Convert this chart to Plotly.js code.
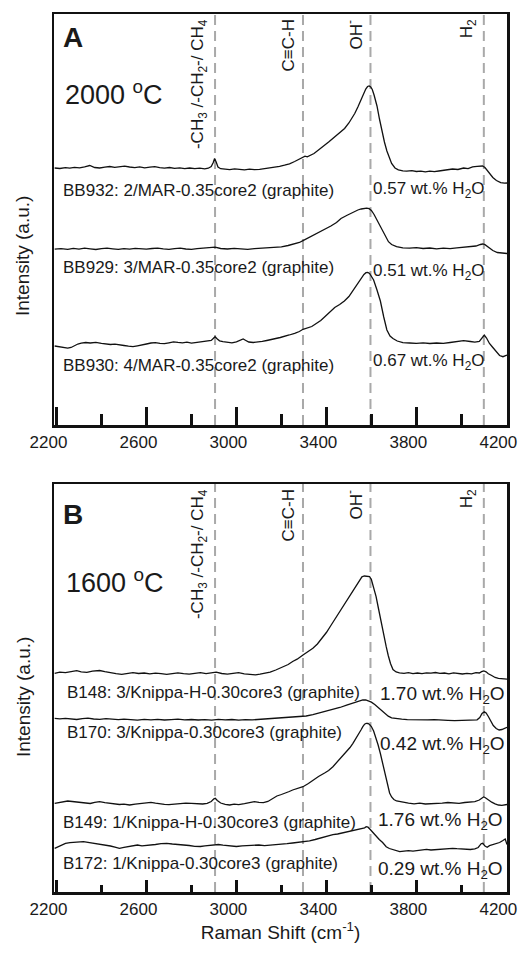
<!DOCTYPE html>
<html><head><meta charset="utf-8">
<script src="https://cdn.plot.ly/plotly-3.0.1.min.js"></script>
<style>html,body{margin:0;padding:0;background:#fff}</style>
</head><body><div id="chart" style="width:531px;height:954px"></div>
<script>
// ---------------- DATA ----------------
// x tick labels and minor tick positions (Raman shift, cm-1)
const majorTicks = [2200, 2600, 3000, 3400, 3800, 4200];
const minorTicks = [2400, 2800, 3200, 3600, 4000];
// band positions (cm-1) and labels
const bandPositions = [2905, 3296, 3596, 4100];
const bandLabels = ['-CH<sub>3</sub> /-CH<sub>2</sub>-/ CH<sub>4</sub>', 'C\u2261C-H', 'OH<sup>-</sup>', 'H<sub>2</sub>'];
// panel A (2000 oC) sample labels / water contents
const samplesA = ['BB932: 2/MAR-0.35core2 (graphite)', 'BB929: 3/MAR-0.35core2 (graphite)', 'BB930: 4/MAR-0.35core2 (graphite)'];
const waterA = ['0.57', '0.51', '0.67'];
// panel B (1600 oC)
const samplesB = ['B148: 3/Knippa-H-0.30core3 (graphite)', 'B170: 3/Knippa-0.30core3 (graphite)', 'B149: 1/Knippa-H-0.30core3 (graphite)', 'B172: 1/Knippa-0.30core3 (graphite)'];
const waterB = ['1.70', '0.42', '1.76', '0.29'];

// spectra: [Raman shift, intensity (a.u., stacked offsets)]
const BB932 = [[2192,257],[2215,256.5],[2240,257.3],[2259,256.8],[2280,257.6],[2303,257.2],[2325,258.2],[2348,259.5],[2370,257.5],[2392,257],[2415,257.8],[2437,258.5],[2459,257.6],[2480,258.3],[2503,258.8],[2525,258],[2548,257.3],[2570,258.1],[2592,257.2],[2615,257.8],[2637,258.3],[2659,257.4],[2680,256.8],[2703,257.5],[2725,256.6],[2748,257.2],[2770,256.4],[2792,257],[2815,256.3],[2837,256.8],[2859,256.2],[2875,256.8],[2888,258.5],[2897,262.5],[2903,266.5],[2910,263],[2918,258],[2930,256.3],[2950,256],[2970,255.4],[2992,256.2],[3014,255.6],[3036,255.2],[3058,255.8],[3080,255.3],[3103,255.6],[3125,256.2],[3148,257],[3170,257.8],[3192,258.6],[3214,259.8],[3236,261.2],[3259,263.5],[3278,265.5],[3296,268],[3305,268.8],[3315,268.2],[3330,269.5],[3345,271.5],[3362,274.5],[3380,277.3],[3393,280],[3410,283],[3437,288],[3460,292],[3481,296.5],[3500,302],[3515,307],[3526,311.5],[3540,318],[3553,325],[3565,331.5],[3575,336],[3583,338.5],[3590,339],[3597,338],[3604,335.5],[3612,330],[3625,319],[3636,306],[3647,294],[3658,283],[3669,274],[3680,266.5],[3690,261.5],[3705,257],[3720,255.2],[3740,254.2],[3757,253.8],[3780,254.3],[3800,253.5],[3820,253.9],[3840,253.2],[3860,253.8],[3880,253.3],[3900,254],[3920,254.6],[3940,255.2],[3961,256],[3985,255.5],[4010,257],[4030,256.4],[4050,258.2],[4070,258.6],[4085,258.9],[4094,259],[4105,257.5],[4115,254.5],[4125,251.5],[4140,247.5],[4156,244.5],[4175,242.3],[4192,241.8],[4203,242]];
const BB929 = [[2192,175.8],[2220,176.4],[2250,175.6],[2275,176.6],[2300,175.9],[2325,176.8],[2350,176.1],[2375,175.5],[2400,176.3],[2425,176.9],[2450,176.2],[2475,175.6],[2500,176.4],[2525,175.9],[2550,176.7],[2575,176.1],[2600,175.8],[2625,176.5],[2650,176.9],[2675,176.2],[2700,175.7],[2725,176.4],[2750,176.8],[2775,176],[2800,175.6],[2825,176.3],[2850,176.8],[2875,177.2],[2905,177.8],[2930,176.5],[2960,176],[2990,176.6],[3020,176.1],[3050,175.7],[3080,176.4],[3110,176.9],[3140,177.2],[3170,177.5],[3200,178.2],[3230,179.5],[3259,181],[3280,182.5],[3296,184.3],[3315,186.5],[3340,189.5],[3365,192],[3393,195.5],[3420,199],[3445,202.5],[3465,206.5],[3490,209.5],[3510,212],[3524,213.5],[3540,215],[3555,216],[3568,216.7],[3579,216.8],[3590,216.3],[3600,214.5],[3612,210.5],[3625,205],[3640,198.3],[3655,191],[3666,186.5],[3676,183.3],[3690,180.5],[3712,178.3],[3740,177.2],[3770,176.8],[3800,177.3],[3830,176.5],[3860,177],[3890,176.2],[3920,176.8],[3950,176.4],[3980,177.2],[4010,177.8],[4040,178.3],[4065,179],[4085,180.5],[4095,181],[4105,180.3],[4115,178.5],[4125,176.7],[4140,174.5],[4160,172.5],[4180,171.8],[4203,171.5]];
const BB930 = [[2192,79],[2210,78.3],[2230,77.5],[2250,76.8],[2265,77.5],[2280,79.5],[2295,81],[2310,81.8],[2330,82.5],[2350,82],[2375,82.6],[2400,81.7],[2420,81.2],[2440,80.5],[2460,80.8],[2480,79.8],[2500,79.5],[2520,78.8],[2540,78.3],[2560,79.2],[2580,79.8],[2600,81],[2620,82],[2640,82.4],[2660,81.6],[2680,81.3],[2700,82.2],[2720,83.2],[2740,82.6],[2760,82.1],[2780,82.8],[2800,81.8],[2825,82.6],[2850,83.3],[2870,83.6],[2888,84.5],[2897,86.5],[2905,88.3],[2915,86],[2925,84.2],[2940,83.4],[2960,82.8],[2980,82.2],[3000,83.2],[3015,84.4],[3030,86],[3040,84.8],[3055,83],[3075,82.5],[3095,82.8],[3115,83.6],[3135,84.5],[3155,85.8],[3175,86.5],[3195,87.5],[3214,88.5],[3235,90],[3259,91.7],[3280,93.5],[3296,95.7],[3315,96.8],[3335,98.5],[3355,101.5],[3375,104.5],[3393,108.3],[3415,112.5],[3437,117.5],[3459,120.5],[3480,124],[3500,128.5],[3524,136.5],[3540,142],[3555,147],[3567,150.5],[3576,152.3],[3584,152.5],[3592,151.5],[3602,148],[3610,145],[3625,135],[3640,124],[3655,108],[3669,95],[3683,89],[3696,86.5],[3715,84],[3740,82.3],[3770,82],[3800,81.7],[3830,82.2],[3860,81.5],[3890,82],[3920,81.7],[3950,82.5],[3980,83.3],[4010,84.3],[4040,83.5],[4060,82.8],[4080,83.5],[4092,86.5],[4102,90],[4112,87],[4125,81.5],[4140,77.5],[4155,73.5],[4170,69.5],[4185,68.3],[4203,70]];
const B148 = [[2192,218.7],[2215,219.8],[2240,219.3],[2265,220.5],[2290,221.3],[2310,220.2],[2335,219.6],[2360,220.8],[2392,221.5],[2415,220.3],[2440,219],[2465,218.3],[2490,217.7],[2515,218.6],[2540,219.4],[2565,218.5],[2590,219],[2615,218.2],[2640,218.9],[2665,218.3],[2690,217.6],[2715,218.4],[2740,219.2],[2765,218.3],[2790,217.8],[2815,218.6],[2840,219.3],[2865,218.4],[2890,219],[2910,219.8],[2935,218.5],[2960,217.9],[2985,218.7],[3010,219.3],[3035,218.2],[3060,217.5],[3085,217.2],[3105,217.8],[3125,218.6],[3150,219.8],[3175,222],[3195,223.8],[3210,225.3],[3230,227.5],[3250,230.5],[3270,232.8],[3296,237],[3320,240.3],[3340,243.7],[3360,248],[3380,253.5],[3400,259.5],[3420,266.5],[3440,273.5],[3460,280.5],[3480,287.5],[3503,295.3],[3518,300.5],[3532,306],[3547,312],[3558,315.2],[3569,316],[3580,316],[3592,315.3],[3600,312.5],[3610,305],[3621,295.3],[3632,283],[3643,270],[3651,262],[3659,253],[3666,245.3],[3675,236.5],[3685,228.5],[3696,222.5],[3710,220],[3725,219.2],[3745,218.6],[3765,219.3],[3785,218.4],[3805,219],[3825,218.3],[3845,219.2],[3865,218.8],[3885,219.5],[3905,218.7],[3925,219],[3945,218.2],[3965,219.1],[3985,218.5],[4005,218],[4025,218.6],[4045,218.2],[4065,219.3],[4080,219],[4090,220.3],[4100,221],[4110,220.2],[4120,218.3],[4135,216.5],[4150,214.5],[4165,213.6],[4180,213.3],[4192,212.8],[4203,212.8]];
const B170 = [[2192,173.7],[2215,173.2],[2240,173.6],[2265,172.8],[2290,172.5],[2315,173.3],[2340,173.8],[2365,173],[2392,172.7],[2420,173.3],[2450,172.8],[2475,172.4],[2500,172.9],[2530,172.3],[2560,171.9],[2590,172.6],[2620,172.2],[2650,172.7],[2680,172],[2710,172.4],[2740,172.8],[2770,172.1],[2800,172.5],[2830,172],[2860,172.4],[2890,171.8],[2920,172.6],[2950,172.1],[2980,172.5],[3010,171.9],[3040,172.4],[3070,172.1],[3100,172.6],[3130,172.9],[3160,173.1],[3190,173.6],[3220,174],[3250,174.6],[3280,175.2],[3310,176],[3340,177.3],[3370,179],[3400,180.7],[3430,182.3],[3460,184.5],[3490,186.8],[3515,188.5],[3535,190],[3550,191.3],[3562,192],[3575,192],[3588,191.2],[3600,189.8],[3615,187.5],[3630,184.5],[3645,181.2],[3660,178.3],[3675,175.8],[3690,174.2],[3710,173.4],[3735,172.8],[3760,172.4],[3790,172.2],[3820,172.6],[3850,172.1],[3880,172.4],[3910,171.8],[3940,171.7],[3970,171.4],[4000,171.6],[4030,171.2],[4055,171.5],[4070,172.2],[4082,174.5],[4092,178.5],[4102,180.3],[4110,179],[4120,175.5],[4130,171],[4142,166.5],[4155,163.5],[4168,162],[4180,162.5],[4192,163.8],[4203,164.7]];
const B149 = [[2192,88.7],[2210,89.5],[2230,90.3],[2250,91],[2270,90.5],[2290,90.1],[2310,89.2],[2330,88.6],[2350,88.5],[2370,89.6],[2392,90.3],[2415,89.4],[2440,88.7],[2460,88],[2480,87.5],[2500,87.9],[2525,87],[2550,87.8],[2570,88.5],[2595,89.3],[2620,89.7],[2640,88.8],[2660,88],[2680,87.6],[2700,87.3],[2725,88],[2750,88.3],[2775,88.9],[2800,88.7],[2825,88.1],[2850,88],[2870,88.7],[2888,90.5],[2900,93.2],[2906,93.7],[2915,91.5],[2930,89],[2950,87.6],[2970,87],[2990,87.8],[3010,87.4],[3036,88.3],[3058,89.1],[3080,90.3],[3100,89.6],[3120,89.4],[3140,90.5],[3150,92],[3162,94],[3180,96],[3200,97.5],[3214,99],[3235,100.5],[3250,102],[3275,103.8],[3296,105.3],[3320,108.5],[3340,112],[3365,115.5],[3392,119],[3410,121.5],[3429,125.3],[3450,130.5],[3470,136],[3490,140.5],[3505,144.5],[3518,148.7],[3532,153.5],[3545,158],[3555,162.5],[3562,165.3],[3570,167.8],[3577,168.7],[3585,168.5],[3592,167.5],[3600,165.5],[3610,161],[3620,154.5],[3630,147],[3640,138.5],[3650,128],[3660,117.5],[3668,110],[3675,104],[3681,99],[3690,95],[3700,92.5],[3712,91],[3726,90.3],[3745,89.5],[3765,88.8],[3790,88.2],[3815,88.8],[3840,88],[3865,88.3],[3890,87.9],[3915,88.8],[3940,89.5],[3965,88.9],[3990,88.7],[4015,89.5],[4040,89.7],[4060,90.3],[4080,92],[4092,94.3],[4100,95.3],[4110,93.8],[4122,91.7],[4135,89.8],[4150,88.2],[4165,87],[4180,86.7],[4192,87],[4203,87.5]];
const B172 = [[2192,43.7],[2203,45],[2215,46.3],[2228,47.5],[2240,48.7],[2260,49.3],[2280,49.5],[2300,50],[2320,50.3],[2340,49.6],[2360,49],[2380,48.2],[2400,47.5],[2420,46.8],[2440,46],[2460,44.8],[2480,43.7],[2500,44.6],[2520,45.5],[2540,46.4],[2560,47],[2580,46.2],[2600,46.5],[2620,47.2],[2640,47.5],[2665,48.3],[2690,48.7],[2715,48],[2740,47.7],[2765,47],[2790,46.5],[2815,45.7],[2840,45.5],[2860,46.1],[2880,46.7],[2900,47.2],[2920,47.5],[2940,46.8],[2960,46.3],[2980,45.9],[3000,45.5],[3025,46.1],[3050,46.5],[3075,47.2],[3100,47],[3125,46.4],[3150,46.7],[3175,47.5],[3200,48],[3225,48.3],[3250,49],[3275,49.6],[3300,50],[3325,51.2],[3350,52.5],[3370,53.8],[3392,55.3],[3410,56.2],[3429,57.3],[3450,58],[3470,59],[3490,59.8],[3503,60.3],[3520,61],[3540,62.3],[3555,63],[3570,64.2],[3577,65.3],[3585,64.8],[3595,62.5],[3605,60],[3621,55.3],[3635,52.5],[3650,49.5],[3666,45.3],[3680,43.5],[3695,42.2],[3710,41],[3726,40.3],[3745,40.8],[3765,41.3],[3785,40.9],[3805,41.7],[3825,42.2],[3845,42.6],[3865,42],[3885,42.3],[3905,43],[3925,43.4],[3945,43],[3961,43.7],[3980,43.3],[4000,43],[4020,42.6],[4040,42.5],[4060,43.2],[4075,44.5],[4088,48.3],[4095,48.7],[4105,46],[4115,44.8],[4125,46.3],[4140,47.5],[4155,48.5],[4170,49.5],[4185,51.5],[4195,53],[4203,47.5]];

// ---------------- LAYOUT HELPERS ----------------
const W = 531, H = 954;
const L = 54, R = 507, T = 14, B = 892;
const px = x => (x - L) / (R - L);
const py = y => (B - y) / (B - T);
const FONT = 'Arial, "Liberation Sans", Helvetica, sans-serif';
const INK = '#1a1a1a';

function spec(arr, xa, ya) {
  return {x: arr.map(p => p[0]), y: arr.map(p => p[1]), xaxis: xa, yaxis: ya,
    type: 'scatter', mode: 'lines', line: {color: '#111', width: 1.3}, hoverinfo: 'skip', showlegend: false};
}
const traces = [
  spec(BB932, 'x2', 'y2'), spec(BB929, 'x2', 'y2'), spec(BB930, 'x2', 'y2'),
  spec(B148, 'x', 'y'), spec(B170, 'x', 'y'), spec(B149, 'x', 'y'), spec(B172, 'x', 'y')
];

function xAxis(anchor, major, minor, showTitle) {
  const a = {
    anchor: anchor, domain: [0, 1], range: [2189, 4203],
    showline: true, mirror: true, linecolor: '#111', linewidth: 2.5,
    showgrid: false, zeroline: false,
    tickmode: 'array', tickvals: majorTicks, ticktext: majorTicks.map(String),
    ticks: 'inside', ticklen: major, tickwidth: 2.5, tickcolor: '#111',
    minor: {tickmode: 'array', tickvals: minorTicks, ticks: 'inside', ticklen: minor, tickwidth: 2.5, tickcolor: '#111', showgrid: false},
    ticklabelshift: -8,
    tickfont: {family: FONT, size: 17, color: INK}
  };
  if (showTitle) a.title = {text: 'Raman Shift (cm<sup>-1</sup>)', font: {family: FONT, size: 19, color: INK}, standoff: 4};
  return a;
}
function yAxis(anchor, domain, range) {
  return {anchor: anchor, domain: domain, range: range, showline: true, mirror: true,
    linecolor: '#111', linewidth: 2.5, showgrid: false, zeroline: false,
    showticklabels: false, ticks: ''};
}

const ann = [];
function txt(text, x, y, size, opts) {
  ann.push(Object.assign({text: text, xref: 'paper', yref: 'paper', x: px(x), y: py(y),
    xanchor: 'left', yanchor: 'middle', showarrow: false,
    font: {family: FONT, size: size, color: INK}}, opts || {}));
}
// panel letters and temperatures
txt('<b>A</b>', 61, 37, 28);
txt('2000 <sup>o</sup>C', 63, 93, 27);
txt('<b>B</b>', 61, 514, 28);
txt('1600 <sup>o</sup>C', 64, 581, 27);
// y titles
txt('Intensity (a.u.)', 23, 256, 19, {xanchor: 'center', textangle: -90});
txt('Intensity (a.u.)', 23, 697, 19, {xanchor: 'center', textangle: -90});
// sample labels
const sampleYA = [191, 267, 365];
const waterYA = [190, 272, 362];
samplesA.forEach((s, i) => { txt(s, 61, sampleYA[i], 17); txt(waterA[i] + ' wt.% H<sub>2</sub>O', 371, waterYA[i], 17); });
const sampleYB = [692, 732, 822, 863];
const waterYB = [695, 745, 821, 870];
const sampleXB = [65, 65, 61, 61];
const waterXB = [378, 378, 376, 376];
samplesB.forEach((s, i) => { txt(s, sampleXB[i], sampleYB[i], 17); txt(waterB[i] + ' wt.% H<sub>2</sub>O', waterXB[i], waterYB[i], 19); });

// band labels and dashed guide lines
const shapes = [];
[['x2', 'y2', 17], ['x', 'y', 487]].forEach(([xa, ya, topY]) => {
  bandPositions.forEach((b, i) => {
    shapes.push({type: 'line', xref: xa, yref: ya + ' domain', x0: b, x1: b, y0: 0, y1: 1,
      layer: 'below', line: {color: '#a9a9a9', width: 2, dash: '10px,6px'}});
    ann.push({text: bandLabels[i], xref: xa, yref: 'paper', x: b, y: py(topY),
      xanchor: 'right', yanchor: 'top', xshift: -3, textangle: -90, showarrow: false,
      font: {family: FONT, size: 17, color: INK}});
  });
});

const layout = {
  width: W, height: H, margin: {l: L, r: W - R, t: T, b: H - B},
  paper_bgcolor: '#fff', plot_bgcolor: '#fff', showlegend: false,
  xaxis: xAxis('y', 12, 7, true),
  yaxis: yAxis('x', [0, py(484)], [0, 408]),
  xaxis2: xAxis('y2', 18, 11, false),
  yaxis2: yAxis('x2', [py(425), 1], [0, 411]),
  annotations: ann, shapes: shapes
};
Plotly.newPlot('chart', traces, layout, {staticPlot: true, displayModeBar: false});
</script></body></html>
